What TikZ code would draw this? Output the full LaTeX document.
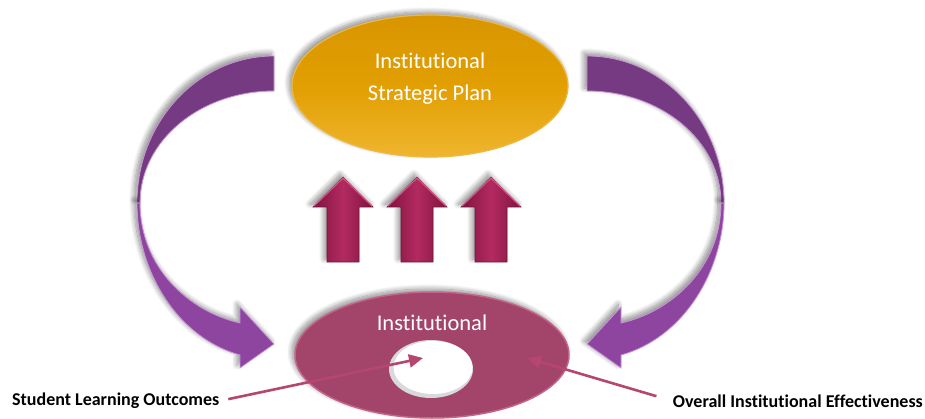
\documentclass[tikz,border=0pt]{standalone}
\usepackage{fontspec}
\setmainfont{Carlito}[Ligatures=NoCommon]
\usetikzlibrary{shapes.geometric,arrows.meta,shadows.blur}
\definecolor{golddark}{HTML}{D89500}
\definecolor{gold}{HTML}{E29F02}
\definecolor{goldlight}{HTML}{EFB52E}
\definecolor{goldrim}{HTML}{EDB845}
\definecolor{rose}{HTML}{A3446A}
\definecolor{roserim}{HTML}{C4648B}
\definecolor{purpdark}{HTML}{763A82}
\definecolor{purplight}{HTML}{8D45A0}
\definecolor{purprim}{HTML}{C895D6}
\definecolor{crimdark}{HTML}{7E1440}
\definecolor{crim}{HTML}{9E1E50}
\definecolor{crimlight}{HTML}{B42A60}
\definecolor{crimedge}{HTML}{D5588A}
\definecolor{pointcol}{HTML}{B4466F}
\begin{document}
\begin{tikzpicture}[x=1pt,y=-1pt,
  softshadow/.style={blur shadow={shadow xshift=-3pt,shadow yshift=3pt,shadow blur steps=10,shadow blur radius=5pt,shadow opacity=45}},
  planshape/.style={ellipse,inner sep=0pt,minimum width=276pt,minimum height=142pt,
    top color=golddark,bottom color=goldlight,middle color=gold,draw=goldrim,line width=1.2pt,softshadow},
  instshape/.style={ellipse,inner sep=0pt,minimum width=274pt,minimum height=126pt,
    fill=rose,draw=roserim,line width=1.5pt,softshadow},
  holeshape/.style={ellipse,inner sep=0pt,fill=gray!30,minimum width=84pt,minimum height=58pt},
  holewhite/.style={ellipse,inner sep=0pt,fill=white,minimum width=79pt,minimum height=53pt},
  intext/.style={text=white,font=\fontsize{22.5}{32}\selectfont,align=center,inner sep=0pt},
  lbl/.style={font=\bfseries\fontsize{18}{22}\selectfont,inner sep=0pt,text=black},
  bandtop/.style={fill=purpdark,draw=purprim,line width=0.8pt,softshadow},
  bandbot/.style={fill=purplight,draw=purprim,line width=0.8pt,softshadow},
  uparrow/.style={left color=crimdark,right color=crimdark,middle color=crimlight,draw=crim!70!black,line width=0.6pt,softshadow},
  headedge/.style={draw=crimedge,line width=1.2pt,line join=round},
  pointer/.style={draw=pointcol,line width=2.6pt,-{Triangle[length=14pt,width=13pt]}}
]
\useasboundingbox (0,0) rectangle (925,419);

% curved purple arrows (left)
\path[bandtop] (274,56) .. controls (198,56) and (137,122) .. (137,203) -- (140,203)
  .. controls (140,141) and (200,91) .. (274,91) -- cycle;
\path[bandbot] (137,203) .. controls (137,272) and (178,338) .. (240,355) -- (240,368) -- (274,344)
  -- (240,307) -- (240,323) .. controls (190,312) and (140,268) .. (140,203) -- cycle;
% curved purple arrows (right)
\path[bandtop] (587,56) .. controls (663,56) and (724,122) .. (724,203) -- (721,203)
  .. controls (721,141) and (661,91) .. (587,91) -- cycle;
\path[bandbot] (724,203) .. controls (724,272) and (683,338) .. (621,355) -- (621,368) -- (587,344)
  -- (621,307) -- (621,323) .. controls (671,312) and (721,268) .. (721,203) -- cycle;

% top ellipse
\node[planshape] (plan) at (430,86) {};
\node[intext] (plantext) at (430,79) {Institutional\\Strategic Plan};

% three up arrows
\foreach \cx in {343,417,491}{
  \path[uparrow] (\cx,177) -- (\cx+30,207) -- (\cx+16,207) -- (\cx+16,262) -- (\cx-16,262)
    -- (\cx-16,207) -- (\cx-30,207) -- cycle;
  \draw[headedge] (\cx-29,206) -- (\cx,178) -- (\cx+29,206);
}

% bottom ellipse
\node[instshape] (inst) at (432,355) {};
\node[holeshape] (hole) at (431,369) {};
\node[holewhite] (holein) at (433,367.5) {};
\node[intext] (insttext) at (432,323) {Institutional};

% labels and pointers
\node[lbl,anchor=west] (slo) at (12,401) {Student Learning Outcomes};
\node[lbl,anchor=east] (oie) at (923,401) {Overall Institutional Effectiveness};
\coordinate (slotip) at (423,358);
\coordinate (oietip) at (527,358);
\draw[pointer,shorten <=9pt] (slo.east) -- (slotip);
\draw[pointer,shorten <=17pt] (oie.west) -- (oietip);
\end{tikzpicture}
\end{document}
